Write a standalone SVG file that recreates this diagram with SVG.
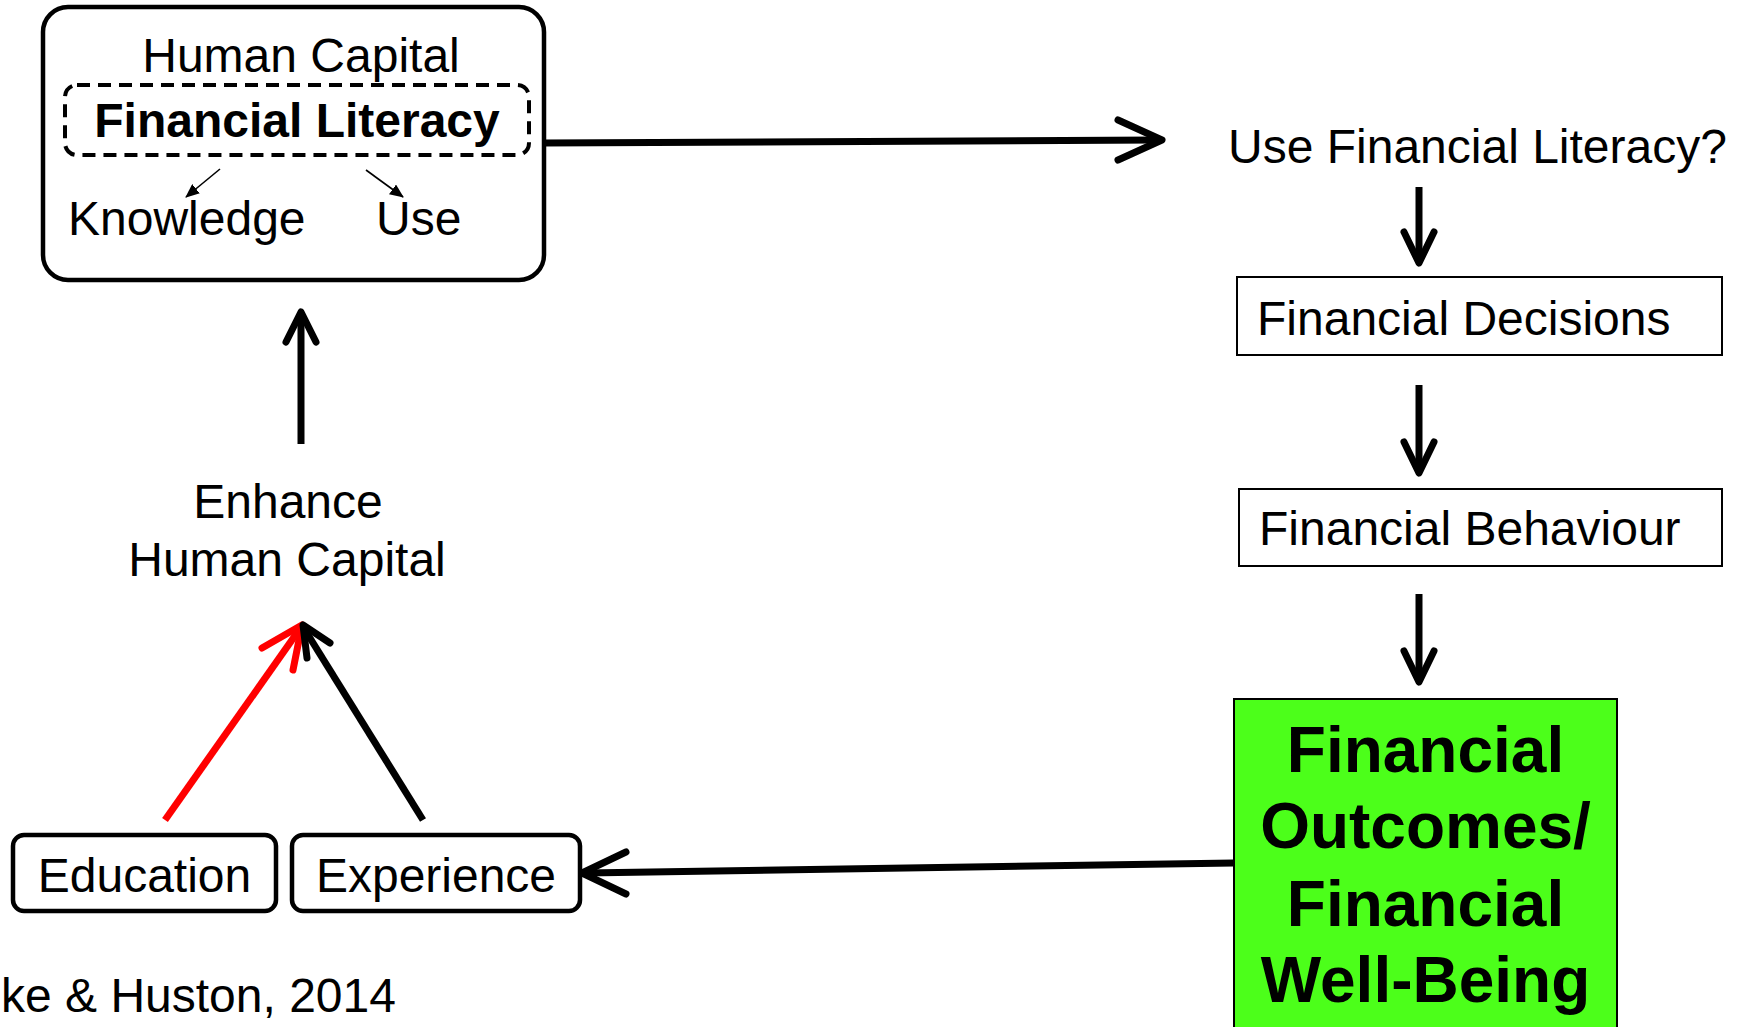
<svg xmlns="http://www.w3.org/2000/svg" width="1742" height="1027" viewBox="0 0 1742 1027">
<defs>
<style>
text{font-family:"Liberation Sans",Arial,sans-serif;fill:#000}
.t{font-size:48px}
.b{font-weight:bold}
.rbox{fill:#fff;stroke:#000;stroke-width:4.5}
.sbox{fill:#fff;stroke:#000;stroke-width:2}
.conn{fill:none;stroke:#000;stroke-width:7;stroke-linecap:round;stroke-linejoin:round}
.shaft{fill:none;stroke:#000;stroke-width:7;stroke-linecap:butt}
.red{stroke:#ff0000}
.thin{fill:none;stroke:#000;stroke-width:1.6}
</style>
<marker id="tri" markerUnits="userSpaceOnUse" markerWidth="14" markerHeight="12" refX="13" refY="6" orient="auto">
<path d="M0,0 L14,6 L0,12 Z" fill="#000"/>
</marker>
</defs>
<rect width="1742" height="1027" fill="#fff"/>

<g id="human-capital">
<rect class="rbox" x="43" y="7" width="501" height="273" rx="25"/>
<text class="t" x="301" y="72" text-anchor="middle">Human Capital</text>
<rect x="65" y="85" width="464" height="70" rx="12" fill="none" stroke="#000" stroke-width="4" stroke-dasharray="13 8"/>
<text class="t b" x="297" y="137" text-anchor="middle">Financial Literacy</text>
<text class="t" x="68" y="235">Knowledge</text>
<text class="t" x="376" y="235">Use</text>
<line class="thin" x1="220" y1="169" x2="186" y2="197" marker-end="url(#tri)"/>
<line class="thin" x1="366" y1="170" x2="403" y2="197" marker-end="url(#tri)"/>
</g>

<g id="use-financial-literacy">
<text class="t" x="1228" y="163">Use Financial Literacy?</text>
</g>

<g id="financial-decisions">
<rect class="sbox" x="1237" y="277" width="485" height="78"/>
<text class="t" x="1257" y="335">Financial Decisions</text>
</g>

<g id="financial-behaviour">
<rect class="sbox" x="1239" y="489" width="483" height="77"/>
<text class="t" x="1259" y="545">Financial Behaviour</text>
</g>

<g id="financial-outcomes">
<rect x="1234" y="699" width="383" height="340" fill="#4cff1a" stroke="#000" stroke-width="2"/>
<text class="b" font-size="64" x="1425.5" y="772" text-anchor="middle">Financial</text>
<text class="b" font-size="64" x="1425.5" y="848" text-anchor="middle">Outcomes/</text>
<text class="b" font-size="64" x="1425.5" y="926" text-anchor="middle">Financial</text>
<text class="b" font-size="64" x="1425.5" y="1002" text-anchor="middle">Well-Being</text>
</g>

<g id="education">
<rect class="rbox" x="13" y="835" width="263" height="76" rx="11"/>
<text class="t" x="144.5" y="892" text-anchor="middle">Education</text>
</g>

<g id="experience">
<rect class="rbox" x="292" y="835" width="288" height="76" rx="11"/>
<text class="t" x="436" y="892" text-anchor="middle">Experience</text>
</g>

<g id="enhance-human-capital">
<text class="t" x="288" y="518" text-anchor="middle">Enhance</text>
<text class="t" x="287" y="576" text-anchor="middle">Human Capital</text>
</g>

<g id="citation">
<text class="t" x="1" y="1012">ke &amp; Huston, 2014</text>
</g>

<g id="connectors">
<line class="shaft" x1="544" y1="143" x2="1158" y2="140"/>
<polyline class="conn" points="1118,120 1162,140 1118,160"/>
<line class="shaft" x1="1419" y1="187" x2="1419" y2="259"/>
<polyline class="conn" points="1404,232 1419,263 1434,232"/>
<line class="shaft" x1="1419" y1="385" x2="1419" y2="469"/>
<polyline class="conn" points="1404,442 1419,473 1434,442"/>
<line class="shaft" x1="1419" y1="594" x2="1419" y2="678"/>
<polyline class="conn" points="1404,651 1419,682 1434,651"/>
<line class="shaft" x1="1234" y1="863" x2="586" y2="873"/>
<polyline class="conn" points="626,852 582,873 626,894"/>
<line class="shaft" x1="301" y1="444" x2="301" y2="316"/>
<polyline class="conn" points="286,342 301,312 316,342"/>
<line class="shaft red" stroke-width="9" x1="165" y1="820" x2="299" y2="630"/>
<polyline class="conn red" stroke-width="9" points="262,648 302,625 293,670"/>
<line class="shaft" x1="423" y1="820" x2="305" y2="630"/>
<polyline class="conn" points="330,643 303,625 307,658"/>
</g>
</svg>
